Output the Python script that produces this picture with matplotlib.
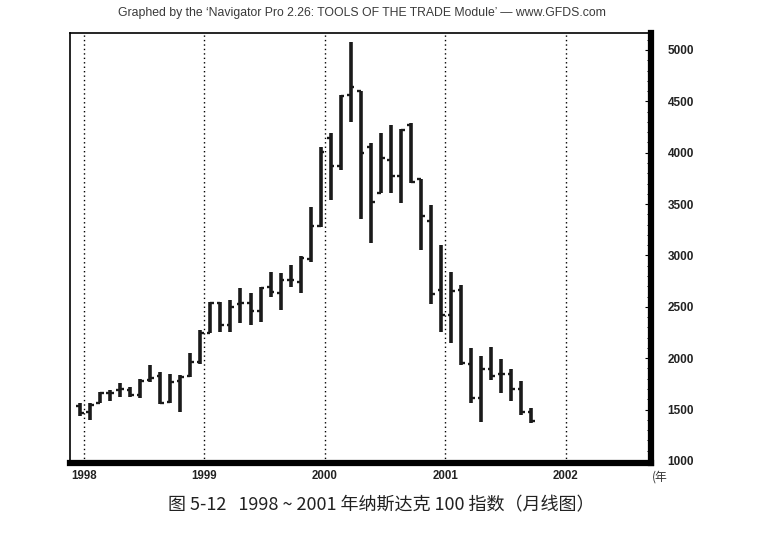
import matplotlib
matplotlib.use("Agg")
import matplotlib.pyplot as plt
import numpy as np
import pandas as pd
from matplotlib.ticker import MultipleLocator

plt.rcParams['font.family'] = ['Liberation Sans', 'Noto Sans CJK SC', 'DejaVu Sans']

# Monthly OHLC, Dec 1997 .. Sep 2001
months = pd.date_range('1997-12-01', periods=46, freq='MS')
opens = [1530, 1480, 1565, 1665, 1690, 1690, 1640, 1790, 1830, 1570, 1775, 1830, 1965,
         2250, 2540, 2320, 2530, 2535, 2460, 2690, 2630, 2760, 2740, 2970, 3290,
         4140, 3870, 4560, 4600, 4060, 3610, 3930, 3770, 4270, 3740, 3340, 2660,
         2420, 2660, 1940, 1610, 1890, 1850, 1850, 1700, 1480]
highs = [1567, 1561, 1675, 1691, 1756, 1717, 1798, 1934, 1869, 1847, 1837, 2048, 2270,
         2550, 2550, 2566, 2681, 2632, 2697, 2843, 2833, 2908, 2995, 3475, 4059,
         4189, 4562, 5075, 4601, 4092, 4189, 4270, 4231, 4292, 3742, 3490, 3102,
         2843, 2713, 2096, 2022, 2106, 1990, 1892, 1781, 1513]
lows = [1438, 1399, 1561, 1587, 1620, 1626, 1610, 1772, 1555, 1561, 1480, 1820, 1944,
        2243, 2253, 2253, 2340, 2324, 2356, 2599, 2470, 2697, 2632, 2940, 3280,
        3540, 3833, 4302, 3352, 3119, 3605, 3605, 3508, 3703, 3054, 2528, 2258,
        2146, 1934, 1561, 1382, 1788, 1665, 1587, 1447, 1367]
closes = [1470, 1540, 1665, 1665, 1700, 1640, 1780, 1810, 1565, 1770, 1820, 1965, 2250,
          2540, 2320, 2500, 2540, 2460, 2680, 2640, 2760, 2760, 2980, 3290, 4010,
          3870, 4550, 4640, 4000, 3525, 3950, 3770, 4220, 3710, 3380, 2620, 2420,
          2650, 1950, 1610, 1890, 1830, 1850, 1700, 1480, 1385]
year_ticks = [1998, 1999, 2000, 2001, 2002]
y_ticks = [1000, 1500, 2000, 2500, 3000, 3500, 4000, 4500, 5000]

title = "Graphed by the \u2018Navigator Pro 2.26: TOOLS OF THE TRADE Module\u2019 \u2014 www.GFDS.com"
caption = "图 5-12   1998 ~ 2001 年纳斯达克 100 指数（月线图）"

x = months.year + (months.month - 1 + 0.6) / 12.0

fig = plt.figure(figsize=(7.76, 5.37), dpi=100)
ax = fig.add_axes([70/776, 1-463/537, 581/776, 430/537])

# year separators
for yr in year_ticks:
    ax.axvline(yr, color='black', lw=1.0, ls=(0, (1, 2.2)), zorder=1)

tick = 0.03
ax.vlines(x, lows, highs, color='#1a1a1a', lw=2.6, zorder=3)
ax.hlines(opens, x - tick, x, color='#1a1a1a', lw=1.7, zorder=3)
ax.hlines(closes, x, x + tick, color='#1a1a1a', lw=1.7, zorder=3)

ax.set_xlim(1997.884, 2002.71)
ax.set_ylim(980, 5165)

ax.yaxis.tick_right()
ax.set_yticks(y_ticks)
ax.set_yticklabels([str(v) for v in y_ticks])
ax.yaxis.set_minor_locator(MultipleLocator(100))
ax.tick_params(axis='y', which='major', direction='in', length=4, width=0.8,
               pad=12, labelsize=8.5, right=True, left=False)
ax.tick_params(axis='y', which='minor', direction='in', length=3, width=0.7,
               right=True, left=False)
for lab in ax.get_yticklabels():
    lab.set_fontweight('bold')
    lab.set_color('#222222')

ax.set_xticks(year_ticks)
ax.set_xticklabels([str(v) for v in year_ticks])
ax.tick_params(axis='x', length=0, pad=5, labelsize=8.3)
for lab in ax.get_xticklabels():
    lab.set_fontweight('bold')
    lab.set_color('#222222')

for side in ['left', 'top']:
    ax.spines[side].set_linewidth(1.2)
for side in ['right', 'bottom']:
    ax.spines[side].set_linewidth(4.5)

fig.text(362/776, 1-13/537, title, ha='center', va='center', fontsize=8.8,
         color='#3a3a3a')
fig.text(652/776, 1-477/537, "(年", ha='left', va='center', fontsize=8.5,
         color='#333333', family=['Noto Sans CJK SC', 'DejaVu Sans'])
fig.text(381/776, 1-505/537, caption, ha='center', va='center', fontsize=13,
         color='#222222', family=['Noto Sans CJK SC', 'DejaVu Sans'])

fig.savefig('out.png', dpi=100)
